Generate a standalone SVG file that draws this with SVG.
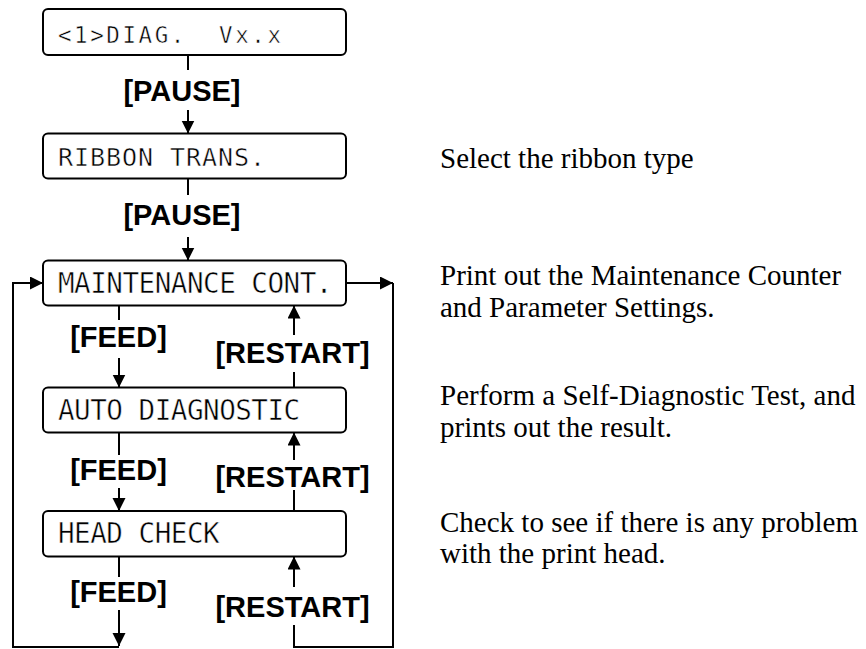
<svg xmlns="http://www.w3.org/2000/svg" width="866" height="649" viewBox="0 0 866 649">
<style>
.box{fill:#fff;stroke:#000;stroke-width:2}
.lcd{font-family:"DejaVu Sans Mono","Liberation Mono",monospace;fill:#000;stroke:#fff;stroke-width:0.5}
.l1{font-size:22.5px;letter-spacing:2.56px}
.l2{font-size:25px;letter-spacing:0.95px}
.l3{font-size:27.6px;letter-spacing:-0.5px}
.key{font-family:"Liberation Sans",Arial,sans-serif;font-weight:bold;font-size:29px;fill:#000;text-anchor:middle}
.desc{font-family:"Liberation Serif","Times New Roman",serif;font-size:29px;fill:#000}
.ln{fill:none;stroke:#000;stroke-width:2}
</style>
<defs>
<marker id="ah" markerUnits="userSpaceOnUse" markerWidth="14" markerHeight="14" refX="13" refY="6.5" orient="auto">
<path d="M0,0 L13,6.5 L0,13 z" fill="#000"/>
</marker>
</defs>

<g id="connectors">
<path class="ln" d="M188,56 V70"/>
<path class="ln" d="M188,110 V133.5" marker-end="url(#ah)"/>
<path class="ln" d="M188,179 V195"/>
<path class="ln" d="M188,237 V260.5" marker-end="url(#ah)"/>
<path class="ln" d="M119,306 V320"/>
<path class="ln" d="M119,358 V387.5" marker-end="url(#ah)"/>
<path class="ln" d="M119,433 V455"/>
<path class="ln" d="M119,488 V511" marker-end="url(#ah)"/>
<path class="ln" d="M119,557 V577"/>
<path class="ln" d="M119,610 V646" marker-end="url(#ah)"/>
<path class="ln" d="M119,647 H13 V283 H43" marker-end="url(#ah)"/>
<path class="ln" d="M294,387 V372"/>
<path class="ln" d="M294,335 V305.5" marker-end="url(#ah)"/>
<path class="ln" d="M294,511 V490"/>
<path class="ln" d="M294,460 V432.5" marker-end="url(#ah)"/>
<path class="ln" d="M346,283 H393" marker-end="url(#ah)"/>
<path class="ln" d="M393,283 V647 H294 V625"/>
<path class="ln" d="M294,587 V556.5" marker-end="url(#ah)"/>
</g>

<g id="labels">
<text class="key" x="182" y="101">[PAUSE]</text>
<text class="key" x="182" y="225">[PAUSE]</text>
<text class="key" x="118.5" y="347">[FEED]</text>
<text class="key" x="118.5" y="480">[FEED]</text>
<text class="key" x="118.5" y="602">[FEED]</text>
<text class="key" x="292.5" y="363">[RESTART]</text>
<text class="key" x="292.5" y="487">[RESTART]</text>
<text class="key" x="292.5" y="617">[RESTART]</text>
</g>

<g id="node-diag">
<rect class="box" x="43" y="9" width="303" height="46" rx="5"/>
<text class="lcd l1" x="58" y="42.7" xml:space="preserve">&lt;1&gt;DIAG.  Vx.x</text>
</g>
<g id="node-ribbon">
<rect class="box" x="43" y="133.5" width="303" height="45" rx="5"/>
<text class="lcd l2" x="58" y="165.5">RIBBON TRANS.</text>
</g>
<g id="node-maint">
<rect class="box" x="43" y="260.5" width="303" height="45" rx="5"/>
<text class="lcd l3" x="58" y="292.9">MAINTENANCE CONT.</text>
</g>
<g id="node-auto">
<rect class="box" x="43" y="387.5" width="303" height="45" rx="5"/>
<text class="lcd l3" x="58" y="419.9">AUTO DIAGNOSTIC</text>
</g>
<g id="node-head">
<rect class="box" x="43" y="511" width="303" height="45.5" rx="5"/>
<text class="lcd l3" x="58" y="542.9">HEAD CHECK</text>
</g>

<g id="descriptions">
<text class="desc" x="440" y="168.3">Select the ribbon type</text>
<text class="desc" x="440" y="285">Print out the Maintenance Counter</text>
<text class="desc" x="440" y="316.7">and Parameter Settings.</text>
<text class="desc" x="440" y="405">Perform a Self-Diagnostic Test, and</text>
<text class="desc" x="440" y="436.7">prints out the result.</text>
<text class="desc" x="440" y="531.7">Check to see if there is any problem</text>
<text class="desc" x="440" y="562.7">with the print head.</text>
</g>
</svg>
